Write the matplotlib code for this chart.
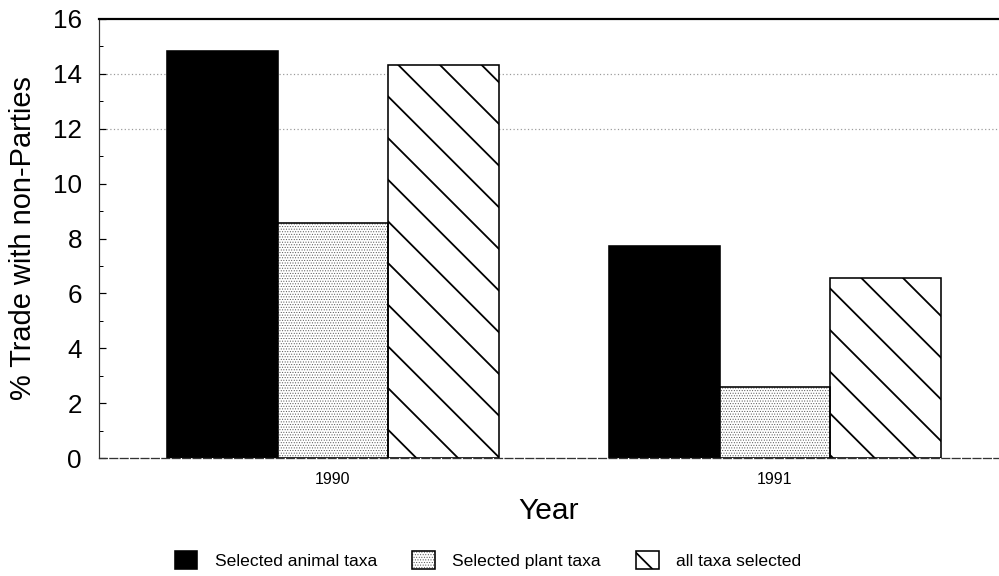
import matplotlib
matplotlib.use('Agg')
import matplotlib.pyplot as plt
import numpy as np
from matplotlib.patches import Patch

years = ['1990', '1991']
series_names = ['Selected animal taxa', 'Selected plant taxa', 'all taxa selected']
animal = [14.85, 7.73]
plant = [8.55, 2.6]
all_taxa = [14.32, 6.55]
yticks = [0, 2, 4, 6, 8, 10, 12, 14, 16]

DPI = 250
def pt(px):
    return px * 72 / DPI

plt.rcParams['font.family'] = ['Liberation Sans', 'DejaVu Sans']
plt.rcParams['hatch.linewidth'] = pt(1.8)

DOTS = '.' * 16
LINES = '\\' * 2
DOT_COLOR = '#555555'
DOT_LW = pt(0.6)

def thin_hatch(patches):
    for p in patches:
        if hasattr(p, 'set_hatch_linewidth'):
            p.set_hatch_linewidth(DOT_LW)

fig = plt.figure(figsize=(999 / DPI, 576 / DPI), dpi=DPI)
ax = fig.add_axes([99 / 999, 118 / 576, 900 / 999, 439 / 576])

x = np.arange(len(years))
w = 0.25
lw = pt(1.6)
ax.bar(x - w, animal, w, color='black', edgecolor='black', linewidth=lw, zorder=2)
# dotted bars: dot fill, then black outline
dot_bars = ax.bar(x, plant, w, facecolor='white', edgecolor=DOT_COLOR, hatch=DOTS,
                  linewidth=0, zorder=2)
thin_hatch(dot_bars)
ax.bar(x, plant, w, fill=False, edgecolor='black', linewidth=lw, zorder=2.1)
ax.bar(x + w, all_taxa, w, facecolor='white', edgecolor='black', hatch=LINES, linewidth=lw, zorder=2)

ax.set_xlim(-0.529, 1.507)
ax.set_ylim(0, 16)
ax.set_yticks(yticks)
ax.set_yticks(np.arange(1, 16, 2), minor=True)
ax.set_xticks(x)
ax.set_xticklabels(years)

for yv in (12, 14):
    ax.axhline(yv, color='#999999', lw=pt(1.2), ls=(0, (1, 2)), zorder=0.5)

ax.tick_params(axis='y', which='major', direction='in', length=pt(7), width=pt(1.2),
               labelsize=pt(26), pad=pt(17))
ax.tick_params(axis='y', which='minor', direction='in', length=pt(4), width=pt(1))
ax.tick_params(axis='x', which='major', direction='in', length=pt(11), width=pt(1.2),
               labelsize=pt(16), pad=pt(14))

ax.spines['right'].set_visible(False)
ax.spines['top'].set_linewidth(pt(2.2))
ax.spines['left'].set_linewidth(pt(1.2))
ax.spines['left'].set_color('#333333')
ax.spines['bottom'].set_linewidth(pt(1.3))
ax.spines['bottom'].set_color('#333333')
ax.spines['bottom'].set_linestyle((0, (6, 2)))

ax.set_ylabel('% Trade with non-Parties', fontsize=pt(29))
ax.yaxis.set_label_coords(-0.069, 0.5)
ax.set_xlabel('Year', fontsize=pt(30), va='center')
ax.xaxis.set_label_coords(0.5, -0.12)

handles = [
    Patch(facecolor='black', edgecolor='black', linewidth=lw),
    (Patch(facecolor='white', edgecolor=DOT_COLOR, hatch=DOTS, linewidth=0),
     Patch(fill=False, edgecolor='black', linewidth=lw)),
    Patch(facecolor='white', edgecolor='black', hatch=LINES, linewidth=lw),
]
leg = fig.legend(handles, series_names, loc='center', bbox_to_anchor=(488 / 999, 1 - 560 / 576),
                 ncol=3, frameon=False, fontsize=pt(17.5), handlelength=1.3, handleheight=1.2,
                 handletextpad=1.0, columnspacing=2.0)
thin_hatch([p for p in leg.findobj(Patch) if p.get_hatch() == DOTS])

fig.savefig('out.png', dpi=DPI)
